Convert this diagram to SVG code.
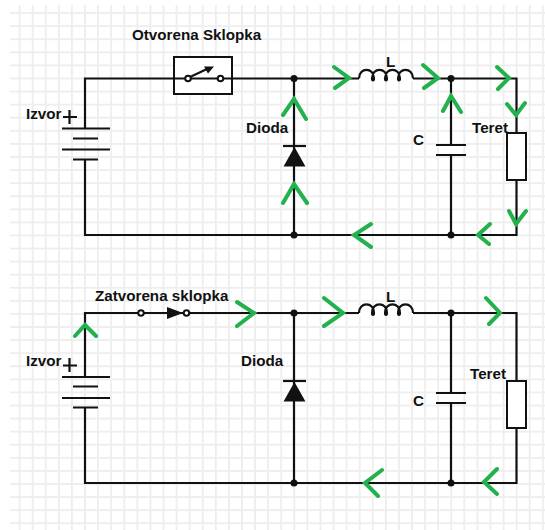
<svg xmlns="http://www.w3.org/2000/svg" width="545" height="530" viewBox="0 0 545 530">
<defs>
<pattern id="gridp" width="13.08" height="13.08" patternUnits="userSpaceOnUse" x="0" y="-6.52">
<path d="M6.54 0V13.08M0 6.54H13.08" fill="none" stroke="#eeeeee" stroke-width="1.8"/>
</pattern>
</defs>
<style>
.w{fill:none;stroke:#111;stroke-width:2.2}
.t{font-family:"Liberation Sans",Arial,sans-serif;font-size:15.2px;font-weight:bold;fill:#111}
.g{fill:none;stroke:#22b14c;stroke-width:4;stroke-linecap:round;stroke-linejoin:miter}
.b{fill:#111;stroke:none}
.o{fill:#fff;stroke:#111;stroke-width:2}
</style>
<rect width="545" height="530" fill="#fff"/>
<rect id="grid" x="10" y="5" width="535" height="525" fill="url(#gridp)"/>
<g id="connectors">
<path class="w" d="M85 128.5V78.5H516.5V133M516.5 180V235H85V159.5"/>
<path class="w" d="M294 78.5V235M451 78.5V145M451 155V235"/>
<path class="w" d="M85 377V313H516.5V381M516.5 428V483H85V407"/>
<path class="w" d="M294 313V483M451 313V393M451 403V483"/>
</g>
<g id="top-switch">
<rect class="o" x="174" y="57" width="58" height="37"/>
<path class="w" d="M174 78.5H232"/>
<circle class="o" cx="188" cy="78.5" r="2.8"/><circle class="o" cx="220.5" cy="78.5" r="2.8"/>
<path class="w" d="M190 77L207 69"/><path class="b" d="M214 66.500L204 66.500L208 73.500Z"/>
</g>
<g id="top-battery">
<path class="w" d="M62 128.500H110M73 138.500H98M62 149.500H110M73 159.500H98M63 117H77M69.500 110V124"/>
</g>
<g id="top-diode">
<path class="w" d="M283 146H306"/><path class="b" d="M294.500 147L283.500 166.500H305.500Z"/>
</g>
<g id="top-inductor">
<rect x="359" y="76" width="54" height="5" fill="#fff"/>
<path class="w" d="M359 78.500C359 67 374 67 374 78.500C374 81 372 81 372 78.500C372 67 387 67 387 78.500C387 81 385 81 385 78.500C385 67 400 67 400 78.500C400 81 398 81 398 78.500C398 67 413 67 413 78.500"/>
</g>
<g id="top-capacitor">
<rect x="445" y="146" width="12" height="9" fill="#fff"/>
<path class="w" d="M436 145H466M436 155H466"/>
</g>
<g id="top-load"><rect class="o" x="507" y="133" width="19" height="47"/></g>
<g id="top-junctions">
<circle class="b" cx="294" cy="78.500" r="3.500"/><circle class="b" cx="294" cy="235" r="3.500"/>
<circle class="b" cx="451" cy="78.500" r="3.500"/><circle class="b" cx="451" cy="235" r="3.500"/>
</g>
<g id="bottom-switch">
<circle class="o" cx="141" cy="313" r="2.800"/><circle class="o" cx="186.500" cy="313" r="2.800"/>
<path class="b" d="M167 307L183 313L167 319Z"/>
</g>
<g id="bottom-battery">
<path class="w" d="M62 377H110M73 386.500H98M62 398H110M73 407.500H98M63 365.500H77M69.500 358V372"/>
</g>
<g id="bottom-diode">
<path class="w" d="M283 381H306"/><path class="b" d="M294.500 382L283.500 401.500H305.500Z"/>
</g>
<g id="bottom-inductor">
<rect x="359" y="310.500" width="54" height="5" fill="#fff"/>
<path class="w" d="M359 313C359 301.500 374 301.500 374 313C374 315.500 372 315.500 372 313C372 301.500 387 301.500 387 313C387 315.500 385 315.500 385 313C385 301.500 400 301.500 400 313C400 315.500 398 315.500 398 313C398 301.500 413 301.500 413 313"/>
</g>
<g id="bottom-capacitor">
<rect x="445" y="394" width="12" height="9" fill="#fff"/>
<path class="w" d="M436 393H466M436 403H466"/>
</g>
<g id="bottom-load"><rect class="o" x="507" y="381" width="19" height="47"/></g>
<g id="bottom-junctions">
<circle class="b" cx="294" cy="313" r="3.500"/><circle class="b" cx="294" cy="483" r="3.500"/>
<circle class="b" cx="451" cy="313" r="3.500"/><circle class="b" cx="451" cy="483" r="3.500"/>
</g>
<g id="current-arrows">
<path class="g" d="M334 67L349 78L335 88M423 65L438 78L424 88M497 67L509 78L498 89M507 104L516 115L525 103M509 211L516 224L526 211M490 224L478 235L489 244M371 224L354 235L371 247M443 111L451 96L461 112M283 115L294 99L306 119M283 203L294 184L307 203"/>
<path class="g" d="M75 336L85 325L96 336M237 302L254 313L237 326M324 298L343 313L324 326M486 298L500 313L489 324M497 469L484 482L497 494M382 470L365 483L378 496"/>
</g>
<g id="labels">
<text class="t" x="132" y="40">Otvorena Sklopka</text>
<text class="t" x="26" y="119">Izvor</text>
<text class="t" x="246" y="133">Dioda</text>
<text class="t" x="386" y="67">L</text>
<text class="t" x="413" y="145">C</text>
<text class="t" x="472" y="133">Teret</text>
<text class="t" x="95" y="301">Zatvorena sklopka</text>
<text class="t" x="26" y="366">Izvor</text>
<text class="t" x="241" y="366">Dioda</text>
<text class="t" x="386" y="302">L</text>
<text class="t" x="413" y="406">C</text>
<text class="t" x="470" y="379">Teret</text>
</g>
</svg>
